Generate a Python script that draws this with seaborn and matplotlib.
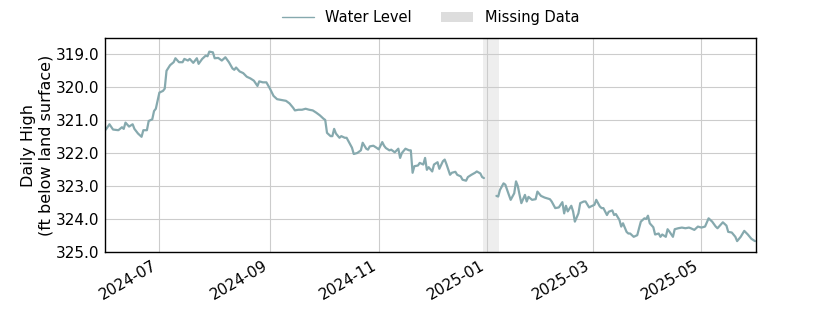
import matplotlib
matplotlib.use("Agg")
import matplotlib.pyplot as plt
import matplotlib.dates as mdates
from matplotlib.lines import Line2D
from matplotlib.patches import Patch
import pandas as pd
import numpy as np
import seaborn as sns

# Segment 1: before missing-data gap
dates_a = [
    "2024-06-01", "2024-06-03", "2024-06-05", "2024-06-08", "2024-06-10", "2024-06-11",
    "2024-06-12", "2024-06-14", "2024-06-16", "2024-06-17", "2024-06-19", "2024-06-21",
    "2024-06-22", "2024-06-24", "2024-06-25", "2024-06-27", "2024-06-28", "2024-06-29",
    "2024-06-30", "2024-07-01", "2024-07-03", "2024-07-04", "2024-07-05", "2024-07-07",
    "2024-07-09", "2024-07-10", "2024-07-12", "2024-07-14", "2024-07-15", "2024-07-17",
    "2024-07-18", "2024-07-20", "2024-07-22", "2024-07-23", "2024-07-25", "2024-07-27",
    "2024-07-28", "2024-07-29", "2024-07-31", "2024-08-01", "2024-08-03", "2024-08-05",
    "2024-08-07", "2024-08-09", "2024-08-11", "2024-08-12", "2024-08-13", "2024-08-15",
    "2024-08-17", "2024-08-19", "2024-08-21", "2024-08-23", "2024-08-25", "2024-08-26",
    "2024-08-28", "2024-08-30", "2024-09-01", "2024-09-03", "2024-09-05", "2024-09-08",
    "2024-09-10", "2024-09-12", "2024-09-14", "2024-09-15", "2024-09-17", "2024-09-19",
    "2024-09-21", "2024-09-23", "2024-09-25", "2024-09-27", "2024-09-29", "2024-10-01",
    "2024-10-02", "2024-10-03", "2024-10-05", "2024-10-06", "2024-10-07", "2024-10-08",
    "2024-10-10", "2024-10-11", "2024-10-13", "2024-10-14", "2024-10-16", "2024-10-17",
    "2024-10-18", "2024-10-20", "2024-10-22", "2024-10-23", "2024-10-25", "2024-10-26",
    "2024-10-27", "2024-10-29", "2024-10-31", "2024-11-01", "2024-11-03", "2024-11-04",
    "2024-11-05", "2024-11-07", "2024-11-08", "2024-11-10", "2024-11-12", "2024-11-13",
    "2024-11-14", "2024-11-16", "2024-11-18", "2024-11-19", "2024-11-20", "2024-11-21",
    "2024-11-23", "2024-11-24", "2024-11-26", "2024-11-27", "2024-11-28", "2024-11-29",
    "2024-12-01", "2024-12-02", "2024-12-04", "2024-12-05", "2024-12-07", "2024-12-08",
    "2024-12-09", "2024-12-11", "2024-12-12", "2024-12-14", "2024-12-15", "2024-12-17",
    "2024-12-18", "2024-12-20", "2024-12-21", "2024-12-23", "2024-12-25", "2024-12-26",
    "2024-12-28", "2024-12-29", "2024-12-30",
]
levels_a = [
    321.29, 321.13, 321.29, 321.31, 321.22, 321.27,
    321.08, 321.20, 321.13, 321.27, 321.41, 321.51,
    321.31, 321.31, 321.03, 320.98, 320.73, 320.66,
    320.42, 320.17, 320.12, 320.05, 319.51, 319.34,
    319.25, 319.13, 319.25, 319.25, 319.15, 319.20,
    319.15, 319.27, 319.13, 319.30, 319.15, 319.05,
    319.07, 318.93, 318.95, 319.13, 319.12, 319.20,
    319.10, 319.25, 319.44, 319.48, 319.41, 319.53,
    319.58, 319.69, 319.74, 319.81, 319.97, 319.83,
    319.86, 319.86, 320.05, 320.27, 320.37, 320.40,
    320.42, 320.50, 320.63, 320.71, 320.69, 320.69,
    320.66, 320.69, 320.71, 320.78, 320.86, 320.96,
    321.00, 321.39, 321.49, 321.49, 321.27, 321.41,
    321.54, 321.49, 321.54, 321.54, 321.74, 321.84,
    322.03, 322.00, 321.92, 321.69, 321.87, 321.90,
    321.80, 321.78, 321.85, 321.89, 321.67, 321.78,
    321.85, 321.92, 321.90, 321.98, 321.87, 322.15,
    322.00, 321.87, 321.92, 321.92, 322.60, 322.40,
    322.38, 322.30, 322.35, 322.15, 322.51, 322.43,
    322.56, 322.35, 322.28, 322.48, 322.25, 322.20,
    322.34, 322.66, 322.60, 322.57, 322.66, 322.71,
    322.81, 322.84, 322.73, 322.66, 322.60, 322.56,
    322.62, 322.73, 322.76,
]

# Segment 2: after missing-data gap
dates_b = [
    "2025-01-06", "2025-01-07", "2025-01-08", "2025-01-10", "2025-01-11", "2025-01-13",
    "2025-01-14", "2025-01-16", "2025-01-17", "2025-01-18", "2025-01-19", "2025-01-20",
    "2025-01-22", "2025-01-23", "2025-01-24", "2025-01-26", "2025-01-28", "2025-01-29",
    "2025-01-31", "2025-02-02", "2025-02-05", "2025-02-06", "2025-02-08", "2025-02-10",
    "2025-02-12", "2025-02-13", "2025-02-14", "2025-02-15", "2025-02-17", "2025-02-18",
    "2025-02-19", "2025-02-21", "2025-02-22", "2025-02-24", "2025-02-25", "2025-02-27",
    "2025-02-28", "2025-03-02", "2025-03-03", "2025-03-05", "2025-03-06", "2025-03-07",
    "2025-03-09", "2025-03-10", "2025-03-12", "2025-03-13", "2025-03-14", "2025-03-16",
    "2025-03-17", "2025-03-18", "2025-03-20", "2025-03-21", "2025-03-22", "2025-03-24",
    "2025-03-26", "2025-03-27", "2025-03-28", "2025-03-30", "2025-03-31", "2025-04-01",
    "2025-04-02", "2025-04-04", "2025-04-05", "2025-04-07", "2025-04-08", "2025-04-09",
    "2025-04-11", "2025-04-12", "2025-04-13", "2025-04-15", "2025-04-16", "2025-04-18",
    "2025-04-20", "2025-04-22", "2025-04-24", "2025-04-25", "2025-04-27", "2025-04-29",
    "2025-05-01", "2025-05-03", "2025-05-05", "2025-05-07", "2025-05-09", "2025-05-10",
    "2025-05-13", "2025-05-15", "2025-05-16", "2025-05-18", "2025-05-20", "2025-05-21",
    "2025-05-23", "2025-05-25", "2025-05-27", "2025-05-29", "2025-05-31",
]
levels_b = [
    323.30, 323.32, 323.12, 322.92, 322.96, 323.27,
    323.42, 323.22, 322.86, 323.00, 323.27, 323.52,
    323.27, 323.47, 323.33, 323.42, 323.40, 323.17,
    323.30, 323.35, 323.40, 323.47, 323.67, 323.65,
    323.49, 323.83, 323.60, 323.77, 323.60, 323.77,
    324.08, 323.83, 323.52, 323.47, 323.47, 323.65,
    323.62, 323.57, 323.42, 323.62, 323.67, 323.67,
    323.88, 323.78, 323.74, 323.88, 323.85, 324.03,
    324.23, 324.13, 324.39, 324.44, 324.44, 324.54,
    324.49, 324.28, 324.08, 323.98, 324.00, 323.90,
    324.13, 324.25, 324.47, 324.44, 324.54, 324.47,
    324.54, 324.31, 324.38, 324.54, 324.31, 324.28,
    324.26, 324.28, 324.26, 324.28, 324.33, 324.23,
    324.26, 324.23, 323.98, 324.08, 324.23, 324.28,
    324.10, 324.20, 324.39, 324.41, 324.54, 324.67,
    324.54, 324.36, 324.47, 324.60, 324.67,
]

missing_start = "2024-12-29 14:00"
missing_end = "2025-01-07 05:00"

y_ticks = [319.0, 320.0, 321.0, 322.0, 323.0, 324.0, 325.0]

line_color = "#86a9ae"

df = pd.DataFrame({
    "date": pd.to_datetime(dates_a + dates_b),
    "level": levels_a + levels_b,
    "segment": ["a"] * len(dates_a) + ["b"] * len(dates_b),
})

sns.set_style("whitegrid", {"axes.edgecolor": "black", "grid.color": "#cccccc"})
plt.rcParams["font.family"] = ["DejaVu Sans"]
plt.rcParams["text.color"] = "black"
plt.rcParams["axes.labelcolor"] = "black"
plt.rcParams["xtick.color"] = "black"
plt.rcParams["ytick.color"] = "black"

fig = plt.figure(figsize=(8.4, 3.15), dpi=100)
ax = fig.add_axes([0.125, 0.2, 0.775, 0.679])

ax.axvspan(pd.Timestamp(missing_start), pd.Timestamp(missing_end),
           color="#eeeeee", zorder=0.5, lw=0)

sns.lineplot(data=df, x="date", y="level", units="segment", estimator=None,
             color=line_color, linewidth=1.6, ax=ax)

ax.set_xlim(pd.Timestamp("2024-05-31 12:00"), pd.Timestamp("2025-05-31 14:00"))
ax.set_ylim(325.0, 318.52)
ax.set_yticks(y_ticks)
ax.set_yticklabels([f"{v:.1f}" for v in y_ticks])
ax.xaxis.set_major_locator(mdates.MonthLocator(bymonth=[1, 3, 5, 7, 9, 11]))
ax.xaxis.set_major_formatter(mdates.DateFormatter("%Y-%m"))
for lab in ax.get_xticklabels():
    lab.set_rotation(30)
    lab.set_ha("right")
ax.tick_params(axis="both", labelsize=11, length=0, pad=4, colors="black")
ax.set_xlabel("")
ax.set_ylabel("Daily High\n(ft below land surface)", fontsize=11.5, labelpad=2,
              color="black")
ax.grid(True, color="#cccccc", linewidth=0.8)
for s in ax.spines.values():
    s.set_color("black")
    s.set_linewidth(1.0)

handles = [
    Line2D([0], [0], color=line_color, lw=1.0),
    Patch(facecolor="#dddddd", edgecolor="none"),
]
leg = ax.legend(handles, ["Water Level", "Missing Data"], loc="lower center",
                bbox_to_anchor=(0.5, 1.0), ncol=2, frameon=False, fontsize=10.5,
                columnspacing=2.0, handlelength=2.2)
for t in leg.get_texts():
    t.set_color("black")

fig.savefig("out.png", dpi=100)
